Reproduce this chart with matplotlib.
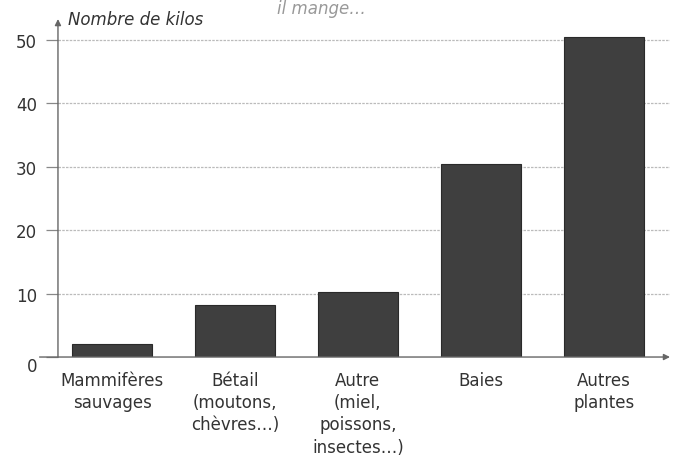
import numpy as np
import matplotlib
matplotlib.use("Agg")
import matplotlib.pyplot as plt

categories = ["Mammifères\nsauvages", "Bétail\n(moutons,\nchèvres…)",
              "Autre\n(miel,\npoissons,\ninsectes…)", "Baies", "Autres\nplantes"]
kilos = [2, 8.2, 10.3, 30.5, 50.5]
yticks = [0, 10, 20, 30, 40, 50]

plt.rcParams['font.family'] = ['DejaVu Sans']

fig = plt.figure(figsize=(6.78, 4.64), dpi=100)
ax = fig.add_axes([0.0855, 0.2284, 0.9027, 0.7284])

x = np.arange(len(categories))
ax.bar(x, kilos, width=0.65, color="#3f3f3f", edgecolor="#2a2a2a",
       linewidth=0.8, zorder=3)

ax.set_xlim(-0.44, 4.54)
ax.set_ylim(0, 53.3)

for s in ax.spines.values():
    s.set_visible(False)

# grid lines (dashed, light)
for t in yticks[1:]:
    ax.axhline(t, color="#bbbbbb", lw=0.9, ls=(0, (2, 1)), zorder=1)

ax.set_yticks(yticks)
ax.set_yticklabels([str(t) for t in yticks], fontsize=12, color="#333333")
ax.tick_params(axis='y', length=9, width=0.9, color="#888888", pad=6)
# the zero label sits a little lower in the original
ax.get_yticklabels()[0].set_va("top")

ax.set_xticks(x)
ax.set_xticklabels(categories, fontsize=12, color="#333333", linespacing=1.3)
ax.tick_params(axis='x', length=0, pad=10)

# axes with arrows
ax.annotate("", xy=(0, 1.0), xytext=(0, 0), xycoords="axes fraction",
            arrowprops=dict(arrowstyle="-|>", color="#666666", lw=1.0,
                            mutation_scale=9, shrinkA=0, shrinkB=0), zorder=4)
ax.annotate("", xy=(1.0, 0), xytext=(-0.03, 0), xycoords="axes fraction",
            arrowprops=dict(arrowstyle="-|>", color="#666666", lw=1.0,
                            mutation_scale=9, shrinkA=0, shrinkB=0), zorder=4)

fig.text(68 / 678, 1 - 25 / 464, "Nombre de kilos", fontsize=12,
         style="italic", color="#333333", va="baseline", ha="left")
fig.text(277 / 678, 1 - 14 / 464, "il mange…", fontsize=12,
         style="italic", color="#999999", va="baseline", ha="left")

fig.savefig("out.png", dpi=100, facecolor="white")
